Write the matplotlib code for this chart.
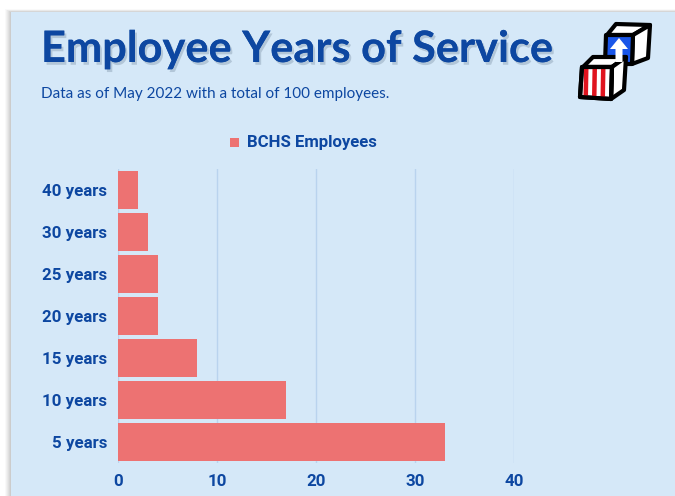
"""
Employee years of service, horizontal bar chart with a blocks logo.
"""

import matplotlib.pyplot as plt
import matplotlib.patheffects as pe
from matplotlib.patches import Polygon, Rectangle

# ---------------------------------------------------------------------------
# Data
# ---------------------------------------------------------------------------

CATEGORIES = ["5 years", "10 years", "15 years", "20 years",
              "25 years", "30 years", "40 years"]
EMPLOYEES = [33, 17, 8, 4, 4, 3, 2]
SERIES_NAME = "BCHS Employees"
X_TICKS = [0, 10, 20, 30, 40]

TITLE = "Employee Years of Service"
SUBTITLE = "Data as of May 2022 with a total of 100 employees."

# ---------------------------------------------------------------------------
# Style
# ---------------------------------------------------------------------------

W, H = 675, 496
PANEL = "#d5e8f8"
BLUE = "#0d47a1"
BAR = "#ed7272"
GRID = "#b9d3ee"

fig = plt.figure(figsize=(W / 100, H / 100), dpi=100)
fig.patch.set_facecolor("white")

# background overlay in pixel coordinates (y grows downward)
bg = fig.add_axes([0, 0, 1, 1])
bg.set_xlim(0, W)
bg.set_ylim(H, 0)
bg.axis("off")

# soft shadow around the panel
for i, a in enumerate([0.04, 0.05, 0.06, 0.07, 0.08, 0.09]):
    off = 6 - i
    bg.add_patch(Rectangle((11 - off, 12 - off * 0.5), W, H, color="#6a6a6a",
                           alpha=a, lw=0, zorder=0))
bg.add_patch(Rectangle((11, 12), W, H, color=PANEL, lw=0, zorder=1))

# title / subtitle
bg.text(41, 62, TITLE, fontsize=31.2, fontweight="bold", family="Lato",
        color=BLUE, ha="left", va="baseline", zorder=3,
        path_effects=[pe.withSimplePatchShadow(offset=(1.5, -2), shadow_rgbFace="#7f93a8",
                                                alpha=0.4), pe.Normal()])
bg.text(41, 98, SUBTITLE, fontsize=11, family="Lato", color=BLUE,
        ha="left", va="baseline", zorder=3)

# blocks logo
def poly(pts, fc, lw=3.0, z=4):
    bg.add_patch(Polygon(pts, closed=True, fc=fc, ec="black", lw=lw,
                         joinstyle="round", zorder=z))

# top cube
poly([(607, 35), (616, 24), (650, 25), (633, 35)], "white")
poly([(633, 35), (650, 25), (648, 58), (632, 64)], "white")
poly([(606, 35), (633, 35), (632, 64), (605, 64)], "#1a56e8")
poly([(619, 38), (628, 49), (622.5, 49), (622.5, 62), (615.5, 62), (615.5, 49), (610, 49)],
     "white", lw=0, z=5)
# bottom cube
poly([(583, 67), (593, 57), (626, 57), (612, 67)], "white")
poly([(612, 67), (626, 57), (624, 90), (611, 99)], "white")
poly([(582, 67), (612, 67), (611, 99), (580, 97)], "white")
for xs in [584, 592.5, 601]:
    poly([(xs, 68), (xs + 4.5, 68), (xs + 4, 97), (xs - 0.5, 97)], "#e0141e", lw=0)
poly([(582, 67), (612, 67), (611, 99), (580, 97)], "none")

# legend
bg.add_patch(Rectangle((230, 138), 9, 9, color=BAR, lw=0, zorder=3))
bg.text(247, 143, SERIES_NAME, fontsize=12.1, fontweight="bold", family="Roboto",
        color=BLUE, ha="left", va="center", zorder=3)

# ---------------------------------------------------------------------------
# Chart
# ---------------------------------------------------------------------------

ax = fig.add_axes([118 / W, 1 - 463 / H, (514 - 118) / W, (463 - 169) / H])
ax.set_facecolor("none")
ax.barh(CATEGORIES, EMPLOYEES, height=0.9, color=BAR, zorder=3)
ax.set_xlim(0, 40)
ax.set_ylim(-0.5, len(CATEGORIES) - 0.5)
ax.set_xticks(X_TICKS)
ax.grid(axis="x", color=GRID, lw=1, zorder=1)
for s in ax.spines.values():
    s.set_visible(False)
ax.tick_params(length=0, colors=BLUE, labelsize=12.2)
ax.tick_params(axis="y", pad=8)
ax.tick_params(axis="x", pad=8)
for lab in ax.get_xticklabels() + ax.get_yticklabels():
    lab.set_family("Roboto")
    lab.set_fontweight("bold")

fig.savefig("out.png", dpi=100, facecolor="white")
